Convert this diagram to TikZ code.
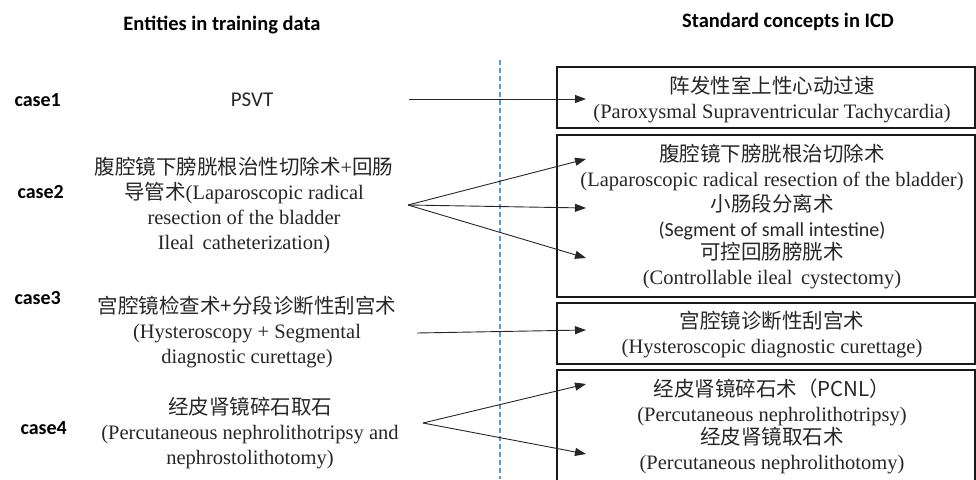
\documentclass[tikz,border=0pt]{standalone}
\usepackage{fontspec}
\setmainfont{Liberation Serif}
\newfontfamily\cjk{Noto Sans CJK SC}
\newfontfamily\calib{Carlito}
\usetikzlibrary{arrows.meta}
\definecolor{dashblue}{RGB}{91,155,213}
\tikzset{
  hdr/.style={font=\calib\bfseries\fontsize{20.5}{24}\selectfont, text=black},
  caselbl/.style={font=\calib\bfseries\fontsize{20}{24}\selectfont, text=black},
  ent/.style={align=center, inner sep=0pt, text=black!85, font=\fontsize{20.5}{25}\selectfont},
  conbox/.style={draw=black!90, line width=1.8pt},
  link/.style={draw=black!85, line width=0.9pt, -{Triangle[length=11pt,width=8pt]}},
}
\begin{document}
\begin{tikzpicture}[x=1pt,y=-1pt]
\useasboundingbox (0,0) rectangle (976,479);
% headers
\node[hdr] (h1) at (222,25) {Entities in training data};
\node[hdr] (h2) at (788,22) {Standard concepts in ICD};
% case labels
\node[caselbl, anchor=west] (c1) at (11,100) {case1};
\node[caselbl, anchor=west] (c2) at (14,192) {case2};
\node[caselbl, anchor=west] (c3) at (11,298) {case3};
\node[caselbl, anchor=west] (c4) at (17,428) {case4};
% dashed separator
\coordinate (dtop) at (500,60);
\coordinate (dbot) at (500,479);
\draw[dashblue, line width=1.2pt, dash pattern=on 5pt off 3pt] (dtop) -- (dbot);
% left entities
\node[ent, font=\calib\fontsize{21}{25}\selectfont] (e1) at (252,100) {PSVT};
\node[ent] (e2) at (244,205) {{\cjk 腹腔镜下膀胱根治性切除术}+{\cjk 回肠}\\{\cjk 导管术}(Laparoscopic radical\\resection of the bladder\\Ileal\ \,catheterization)};
\node[ent] (e3) at (247,332) {{\cjk 宫腔镜检查术+分段诊断性刮宫术}\\(Hysteroscopy + Segmental\\diagnostic curettage)};
\node[ent] (e4) at (250,433) {{\cjk 经皮肾镜碎石取石}\\(Percutaneous nephrolithotripsy and\\nephrostolithotomy)};
% right boxes
\draw[conbox] (557,67) rectangle (975,128);
\draw[conbox] (557,135) rectangle (975,297);
\draw[conbox] (557,303) rectangle (975,364);
\draw[conbox] (557,370) rectangle (975,485);
% right texts
\node[ent] (r1) at (772,99.5) {{\cjk 阵发性室上性心动过速}\\(Paroxysmal Supraventricular Tachycardia)};
\node[ent] (r2a) at (772,167.5) {{\cjk 腹腔镜下膀胱根治切除术}\\(Laparoscopic radical resection of the bladder)};
\node[ent] (r2b) at (772,217.5) {{\cjk 小肠段分离术}\\{\calib\fontsize{20}{25}\selectfont (Segment of small intestine)}};
\node[ent] (r2c) at (772,265.5) {{\cjk 可控回肠膀胱术}\\(Controllable ileal\ \,cystectomy)};
\node[ent] (r3) at (772,334.5) {{\cjk 宫腔镜诊断性刮宫术}\\(Hysteroscopic diagnostic curettage)};
\node[ent] (r4a) at (772,402.5) {{\cjk 经皮肾镜碎石术（PCNL）}\\(Percutaneous nephrolithotripsy)};
\node[ent] (r4b) at (772,450.5) {{\cjk 经皮肾镜取石术}\\(Percutaneous nephrolithotomy)};
% connector endpoints
\coordinate (s1) at (409,99);
\coordinate (t1) at (586,99);
\coordinate (s2) at (408,205);
\coordinate (t2a) at (586,159);
\coordinate (t2b) at (586,208);
\coordinate (t2c) at (586,258);
\coordinate (s3) at (417,333);
\coordinate (t3) at (586,330);
\coordinate (s4) at (423,423);
\coordinate (t4a) at (586,384);
\coordinate (t4b) at (586,454);
\draw[link] (s1) -- (t1);
\draw[link] (s2) -- (t2a);
\draw[link] (s2) -- (t2b);
\draw[link] (s2) -- (t2c);
\draw[link] (s3) -- (t3);
\draw[link] (s4) -- (t4a);
\draw[link] (s4) -- (t4b);
\end{tikzpicture}
\end{document}
